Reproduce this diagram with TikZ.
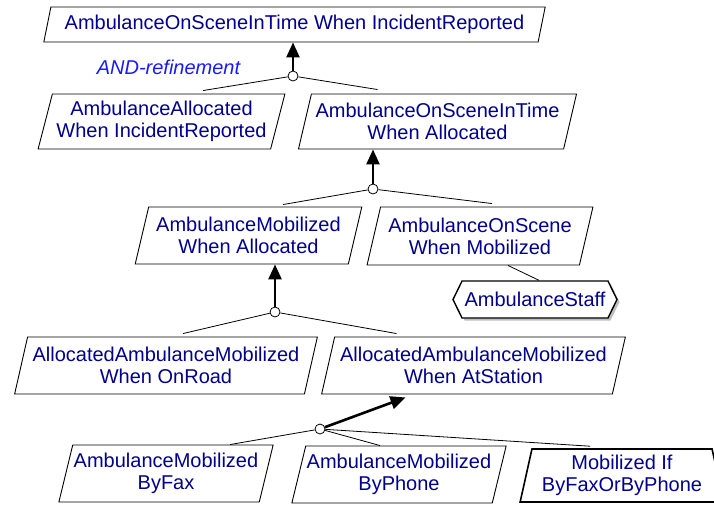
\documentclass[tikz,border=0pt]{standalone}
\usepackage{fontspec}
\setmainfont{Liberation Sans}
\usetikzlibrary{shapes.geometric,shapes.symbols,arrows.meta,shadows}
\definecolor{navy}{RGB}{0,0,140}
\definecolor{bluand}{RGB}{25,25,255}

\begin{document}
\begin{tikzpicture}[x=1pt,y=-1pt,
  goal/.style={trapezium, trapezium left angle=72, trapezium right angle=108,
    trapezium stretches=true, draw, line width=.9pt, text=navy, align=center,
    inner sep=1pt, font=\fontsize{20}{22}\selectfont},
  agent/.style={signal, signal to=west and east, signal pointer angle=128,
    draw, line width=1.4pt, fill=white, text=navy, inner sep=1pt,
    font=\fontsize{20}{22}\selectfont,
    drop shadow={shadow xshift=2.5pt, shadow yshift=-2.5pt, fill=black!25, opacity=1}},
  domprop/.style={trapezium, trapezium left angle=76, trapezium right angle=76,
    trapezium stretches=true, draw, line width=1.6pt, text=navy, align=center,
    inner sep=1pt, font=\fontsize{20}{22}\selectfont},
  refnode/.style={circle, draw, fill=white, line width=.8pt, minimum size=10pt, inner sep=0pt},
  refarrow/.style={-{Triangle[length=15pt,width=13pt]}, line width=2.6pt}]

\useasboundingbox (0,0) rectangle (714,504);

% obiettivi
\node[goal, minimum width=505, minimum height=35] (a) at (294.5,24.5) {AmbulanceOnSceneInTime When IncidentReported};
\node[goal, minimum width=247, minimum height=55] (b) at (161.5,121.5) {AmbulanceAllocated\\When IncidentReported};
\node[goal, minimum width=279, minimum height=55] (c) at (437.5,121.5) {AmbulanceOnSceneInTime\\When Allocated};
\node[goal, minimum width=227, minimum height=57] (d) at (248.5,235.5) {AmbulanceMobilized\\When Allocated};
\node[goal, minimum width=226, minimum height=58] (e) at (480,236) {AmbulanceOnScene\\When Mobilized};
\node[agent, minimum width=164, minimum height=37] (f) at (535,299.5) {AmbulanceStaff};
\node[goal, minimum width=304, minimum height=57] (g) at (166,365.5) {AllocatedAmbulanceMobilized\\When OnRoad};
\node[goal, minimum width=305, minimum height=57] (h) at (473.5,365.5) {AllocatedAmbulanceMobilized\\When AtStation};
\node[goal, minimum width=212, minimum height=57] (i) at (166,473.5) {AmbulanceMobilized\\ByFax};
\node[goal, minimum width=212, minimum height=57] (j) at (399,474.5) {AmbulanceMobilized\\ByPhone};
\node[domprop, minimum width=204, minimum height=53] (k) at (622,475.5) {Mobilized If\\ByFaxOrByPhone};

\node[text=bluand, font=\fontsize{20}{22}\selectfont\itshape] (l) at (168.5,67) {AND-refinement};

% raffinamenti
\node[refnode] (r1) at (293,76) {};
\node[refnode] (r2) at (373,189) {};
\node[refnode] (r3) at (275,312) {};
\node[refnode] (r4) at (320,429) {};

\draw[refarrow] (r1) -- (r1 |- a.south);
\draw[refarrow] (r2) -- (r2 |- c.south);
\draw[refarrow] (r3) -- (r3 |- d.south);
\draw[refarrow] (r4) -- ([xshift=-68pt,yshift=-3pt]h.south);

\begin{scope}[line width=.8pt]
  \draw (r1) -- ([xshift=41.5pt,yshift=3pt]b.north);
  \draw (r1) -- ([xshift=-60pt,yshift=4pt]c.north);
  \draw (r2) -- ([xshift=34.5pt,yshift=2pt]d.north);
  \draw (r2) -- ([xshift=12pt,yshift=3pt]e.north);
  \draw (r3) -- ([xshift=17pt,yshift=3pt]g.north);
  \draw (r3) -- ([xshift=-77pt,yshift=3pt]h.north);
  \draw (r4) -- ([xshift=64pt]i.north);
  \draw (r4) -- ([xshift=-19pt]j.north);
  \draw (r4) -- ([xshift=-32pt,yshift=2pt]k.north);
  \draw ([xshift=28pt]e.south) -- ([xshift=4pt]f.north); % responsabilita'
\end{scope}

\end{tikzpicture}
\end{document}
